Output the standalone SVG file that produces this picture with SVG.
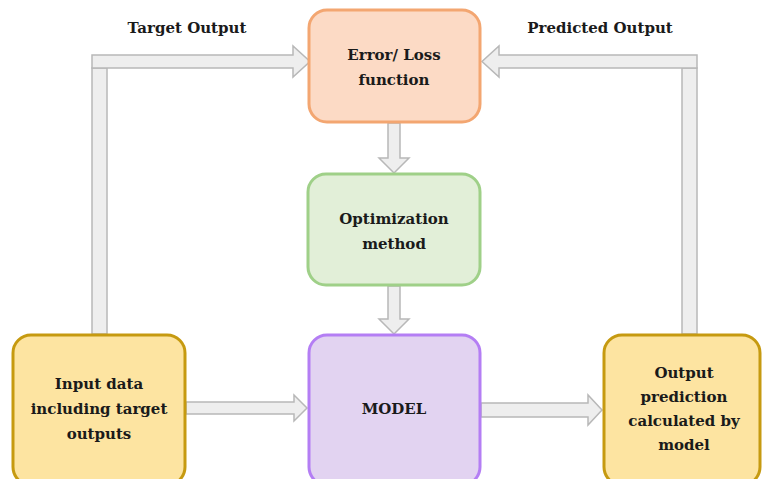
<svg xmlns="http://www.w3.org/2000/svg" width="764" height="479" viewBox="0 0 764 479">
  <style>
    .lbl { font-family: "DejaVu Serif", "Liberation Serif", serif; font-weight: bold; font-size: 15px; fill: #1a1a1a; text-anchor: middle; }
    .arrow { fill: #eeeeee; stroke: #b8b8b8; stroke-width: 1.5; stroke-linejoin: miter; }
    .box { stroke-width: 3; }
  </style>
  <rect width="764" height="479" fill="#ffffff"/>

  <!-- connectors: wide block arrows -->
  <g id="connectors">
    <!-- target output: input box up and across to loss -->
    <rect class="arrow" x="92" y="68" width="15" height="266"/>
    <path class="arrow" d="M92,55 L293,55 L293,46 L310,61.5 L293,77 L293,68 L92,68 Z"/>
    <!-- predicted output: output box up and across to loss -->
    <rect class="arrow" x="682" y="68" width="15" height="266"/>
    <path class="arrow" d="M697,55 L499,55 L499,46 L482,61.5 L499,77 L499,68 L697,68 Z"/>
    <!-- loss to optimization -->
    <path class="arrow" d="M388,123 L400,123 L400,158 L409,158 L394,173 L379,158 L388,158 Z"/>
    <!-- optimization to model -->
    <path class="arrow" d="M388,286 L400,286 L400,319 L409,319 L394,334 L379,319 L388,319 Z"/>
    <!-- input to model -->
    <path class="arrow" d="M186,402 L294,402 L294,395 L307,408 L294,421 L294,414 L186,414 Z"/>
    <!-- model to output -->
    <path class="arrow" d="M481,403 L588,403 L588,395 L602,410 L588,425 L588,417 L481,417 Z"/>
  </g>

  <g id="loss">
    <rect class="box" x="309" y="10" width="171" height="112" rx="18" fill="#fcdac5" stroke="#f3a671"/>
    <text class="lbl" x="394" y="60">Error/ Loss</text>
    <text class="lbl" x="394" y="85">function</text>
  </g>

  <g id="optimization">
    <rect class="box" x="308" y="174" width="172" height="111" rx="18" fill="#e2efd8" stroke="#9fd088"/>
    <text class="lbl" x="394" y="224">Optimization</text>
    <text class="lbl" x="394" y="249">method</text>
  </g>

  <g id="model">
    <rect class="box" x="309" y="335" width="171" height="150" rx="18" fill="#e2d3f1" stroke="#b47ef4"/>
    <text class="lbl" x="394" y="414">MODEL</text>
  </g>

  <g id="input">
    <rect class="box" x="13" y="335" width="172" height="150" rx="18" fill="#fde4a1" stroke="#c69a10"/>
    <text class="lbl" x="99" y="389">Input data</text>
    <text class="lbl" x="99" y="414">including target</text>
    <text class="lbl" x="99" y="439">outputs</text>
  </g>

  <g id="output">
    <rect class="box" x="604" y="335" width="156" height="150" rx="18" fill="#fde4a1" stroke="#c69a10"/>
    <text class="lbl" x="684" y="378">Output</text>
    <text class="lbl" x="684" y="402">prediction</text>
    <text class="lbl" x="684" y="426">calculated by</text>
    <text class="lbl" x="684" y="450">model</text>
  </g>

  <g id="labels">
    <text class="lbl" x="187" y="33">Target Output</text>
    <text class="lbl" x="600" y="33">Predicted Output</text>
  </g>
</svg>
